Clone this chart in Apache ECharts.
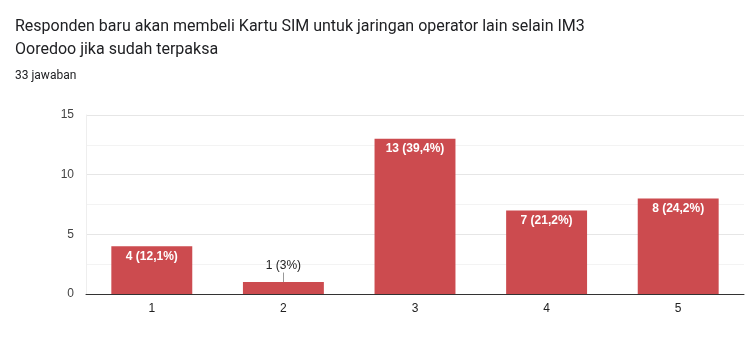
<!DOCTYPE html>
<html>
<head>
<meta charset="utf-8">
<script src="https://cdn.jsdelivr.net/npm/echarts@6/dist/echarts.min.js"></script>
<style>
html,body{margin:0;padding:0;background:#fff;}
#c{width:746px;height:358px;}
</style>
</head>
<body>
<div id="c"></div>
<script>
var titleLines = ["Responden baru akan membeli Kartu SIM untuk jaringan operator lain selain IM3", "Ooredoo jika sudah terpaksa"];
var subtitle = "33 jawaban";
var categories = ["1", "2", "3", "4", "5"];
var counts = [4, 1, 13, 7, 8];
var labels = ["4 (12,1%)", "1 (3%)", "13 (39,4%)", "7 (21,2%)", "8 (24,2%)"];
var yTicks = [0, 5, 10, 15];

var chart = echarts.init(document.getElementById('c'), null, {renderer: 'canvas'});
var barColor = '#cc4b4f';
var data = counts.map(function (v, i) {
  var item = {value: v};
  if (v < 2) {
    item.label = {position: 'top', distance: 10, color: '#222', fontWeight: 'normal'};
  }
  return item;
});
chart.setOption({
  animation: false,
  title: [
    {text: titleLines.join('\n'), left: 10, top: 10, textStyle: {fontFamily: 'Roboto', fontSize: 16, fontWeight: 'normal', color: '#202124', lineHeight: 23}},
    {text: subtitle, left: 10, top: 65, textStyle: {fontFamily: 'Roboto', fontSize: 12, fontWeight: 'normal', color: '#202124'}}
  ],
  grid: {left: 86, right: 2, top: 115, bottom: 64, containLabel: false},
  xAxis: {
    type: 'category', data: categories,
    axisLine: {show: true, lineStyle: {color: '#333', width: 1}},
    axisTick: {show: false},
    axisLabel: {color: '#222', fontFamily: 'Arial', fontSize: 12, margin: 9}
  },
  yAxis: {
    type: 'value', min: yTicks[0], max: yTicks[yTicks.length - 1], interval: 5,
    axisLine: {show: true, lineStyle: {color: '#eee'}},
    axisTick: {show: false},
    axisLabel: {color: '#444', fontFamily: 'Arial', fontSize: 12, margin: 12},
    splitLine: {lineStyle: {color: '#e6e6e6'}},
    minorTick: {show: false, splitNumber: 2},
    minorSplitLine: {show: true, lineStyle: {color: '#f3f3f3'}}
  },
  series: [{
    type: 'bar', data: data, barWidth: '61.5%',
    itemStyle: {color: barColor},
    label: {
      show: true, position: 'insideTop', distance: 4,
      color: '#fff', fontFamily: 'Arial', fontSize: 12, fontWeight: 'bold',
      formatter: function (p) { return labels[p.dataIndex]; }
    },
    markLine: {
      silent: true, symbol: 'none', label: {show: false},
      lineStyle: {color: '#999', width: 1, type: 'solid'},
      data: counts.map(function (v, i) { return v < 2 ? [{coord: [i, v]}, {coord: [i, v + 0.8]}] : null; }).filter(Boolean)
    }
  }]
});
</script>
</body>
</html>
